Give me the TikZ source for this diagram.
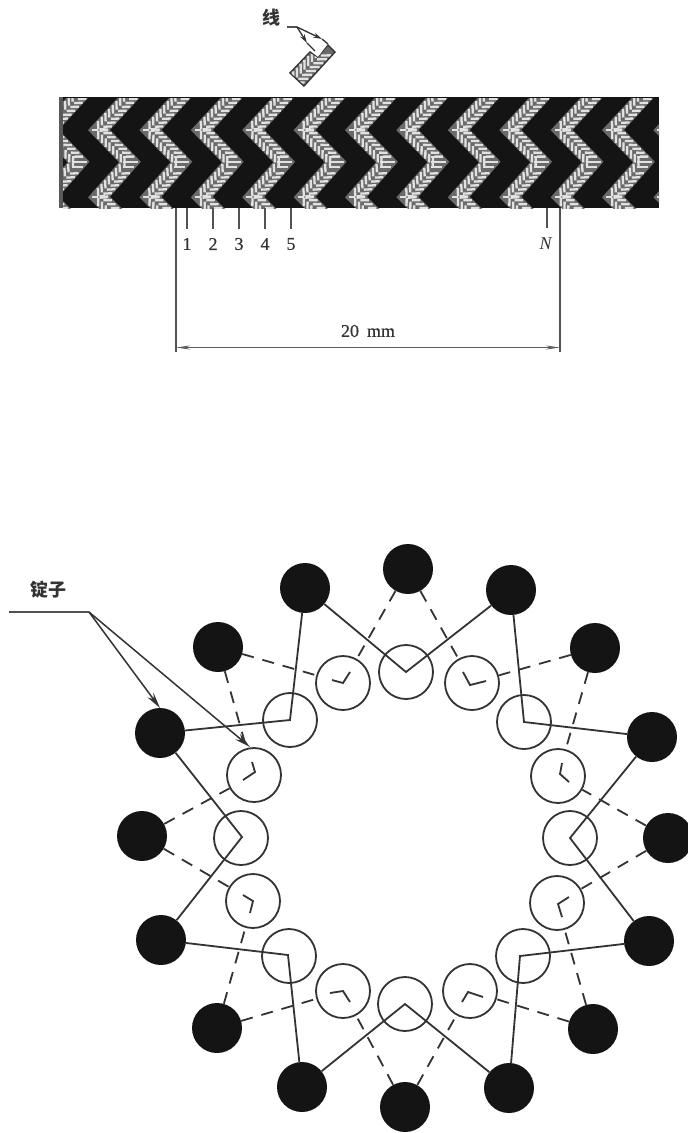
\documentclass[tikz,border=0pt]{standalone}
\usepackage{fontspec}
\setmainfont{Liberation Serif}
\newfontfamily\labfont[FakeBold=0.5]{Liberation Serif}
\newfontfamily\cjk{Noto Sans CJK SC}
\usetikzlibrary{arrows.meta}
\definecolor{ink}{HTML}{333333}
\definecolor{solidblack}{HTML}{141414}
\definecolor{yarn}{HTML}{E2E2E2}
\definecolor{yarnbase}{HTML}{6A6A6A}
\tikzset{
  x=1pt,y=-1pt,
  spindleblack/.style={circle,fill=solidblack,draw=none,minimum size=50pt,inner sep=0pt},
  spindleopen/.style={circle,draw=ink,line width=1.8pt,fill=none,minimum size=54pt,inner sep=0pt},
  solidlink/.style={draw=ink,line width=1.8pt},
  dashlink/.style={draw=ink,line width=1.8pt,dash pattern=on 12pt off 9pt},
  ticklink/.style={draw=ink,line width=1.8pt},
  thinline/.style={draw=ink!85!white,line width=1.7pt},
  pointer/.style={draw=ink,line width=1.5pt,-{Stealth[length=16pt,width=7.5pt]}},
  smallpointer/.style={draw=ink,line width=1.3pt,-{Stealth[length=9pt,width=5pt]}},
  lab/.style={inner sep=0pt,text=ink,font=\labfont\fontsize{18}{18}\selectfont},
  cjklab/.style={inner sep=0pt,text=ink,font=\cjk\bfseries\fontsize{18}{18}\selectfont},
  yarnstroke/.style={yarn,line width=2.3pt},
  yarnband/.style={yarnbase,line width=16pt,miter limit=10,line join=miter},
}
% one braided arm: start (#1,#2), page angle #3, last plait index #4, half width #5
\newcommand{\braidarm}[5]{%
  \begin{scope}[shift={(#1,#2)},rotate=#3]
    \foreach \pl in {0,...,#4}{
      \pgfmathsetmacro{\uu}{5.4*\pl}
      \pgfmathsetmacro{\vv}{\uu+#5-1}
      \draw[yarnstroke] (\uu,1)--(\vv,#5) (\uu,-1)--(\vv,-#5);
    }
  \end{scope}}
\newcommand{\braidstripe}[1]{%
  \pgfmathsetmacro{\Lx}{89+51.4*#1}%
  \pgfmathsetmacro{\Lp}{\Lx+10}\pgfmathsetmacro{\Lr}{\Lx+41}%
  \pgfmathsetmacro{\La}{\Lx+46}\pgfmathsetmacro{\Lb}{\Lx+30}%
  \pgfmathsetmacro{\Lt}{\Lx+3}\pgfmathsetmacro{\Lu}{\Lx+9}%
  \pgfmathsetmacro{\Lv}{\Lx+34}\pgfmathsetmacro{\Lw}{\Lx+49}\pgfmathsetmacro{\Lz}{\Lx+45}%
  \draw[yarnband] (\La,91)--(\Lp,130)--(\Lr,162)--(\Lp,197)--(\Lb,217);
  \braidarm{\Lp}{197}{48}{6}{7}%
  \braidarm{\Lp}{197}{-46}{4}{7}%
  \braidarm{\Lp}{130}{47}{8}{7}%
  \braidarm{\Lp}{130}{-46}{7}{7}%
  \draw[yarnstroke] (\Lt,130)--(\Lu,130) (\Lt,197)--(\Lu,197)
     (\Lv,157)--(\Lz,157) (\Lv,162)--(\Lw,162) (\Lv,167)--(\Lz,167);}
\begin{document}
\begin{tikzpicture}
\useasboundingbox (0,0) rectangle (688,1133);
\fill[white] (0,0) rectangle (688,1133);

% --- fabric band ---
\fill[solidblack] (59,97) rectangle (659,208);
\begin{scope}
  \clip (63,98) rectangle (659,208);
  \foreach \k in {-1,0,...,11}{\braidstripe{\k}}
\end{scope}
\fill[gray!70!black] (59,97) rectangle (63,208);

% --- small swatch ---
\fill[ink] (289,73)--(304,87)--(336,52)--(328,44)--(318,57)--(310,51)--cycle;
\begin{scope}
  \clip (291,73)--(304,85)--(334,52)--(328,46)--(318,58)--(310,53)--cycle;
  \fill[yarnbase] (291,73)--(304,85)--(334,52)--(328,46)--(318,58)--(310,53)--cycle;
  \braidarm{294}{82}{46}{7}{8}
\end{scope}

% --- thread label ---
\node[cjklab] (thread) at (271,18) {线};
\coordinate (t0) at (287,27);
\coordinate (t1) at (297,27);
\coordinate (t2) at (315,51);
\coordinate (t3) at (328,44);
\coordinate (t4) at (307,43);
\coordinate (t5) at (322,39);
\draw[thinline] (t0)--(t1);
\draw[smallpointer] (t1)--(t4);
\draw[draw=ink,line width=1.3pt] (t4)--(t2);
\draw[smallpointer] (t1)--(t5);
\draw[draw=ink,line width=1.3pt] (t5)--(t3);

% --- numbering ---
\foreach \n/\xx in {1/187,2/213,3/239,4/265,5/291}{
  \coordinate (ta\n) at (\xx,208);
  \coordinate (tb\n) at (\xx,229);
  \draw[thinline] (ta\n)--(tb\n);
  \node[lab] (n\n) at (\xx,244) {\n};
}
\coordinate (taN) at (547,208);
\coordinate (tbN) at (547,228);
\draw[thinline] (taN)--(tbN);
\node[inner sep=0pt,text=ink,font=\fontsize{18}{18}\selectfont] (nN) at (546,244) {\textit{N}};

% --- dimension ---
\coordinate (d1) at (176,208);
\coordinate (d2) at (176,352);
\coordinate (d3) at (560,208);
\coordinate (d4) at (560,352);
\coordinate (e1) at (176,347.5);
\coordinate (e2) at (560,347.5);
\draw[thinline] (d1)--(d2);
\draw[thinline] (d3)--(d4);
\draw[draw=ink!80!white,line width=1.3pt,{Stealth[length=14pt,width=4pt]}-{Stealth[length=14pt,width=4pt]}] (e1)--(e2);
\node[lab] (dim) at (368,331) {20\hspace{8pt}mm};

% --- black spindles ---
\foreach \nm/\xx/\yy in {a/408/569,b/511/590,c/595/648,d/652/737,e/668/838,f/649/941,g/593/1029,h/509/1088,i/405/1107,j/302/1087,k/217/1028,l/161/940,m/142/836,o/160/733,p/218/647,q/305/588}{
  \node[spindleblack] (B\nm) at (\xx,\yy) {};
}
% --- open spindles ---
\foreach \nm/\xx/\yy in {a/406/672,b/472/683,c/524/722,d/558/776,e/570/838,f/557/903,g/523/956,h/470/991,i/405/1004,j/343/991,k/289/956,l/253/901,m/241/838,o/254/775,p/290/720,q/343/683}{
  \node[spindleopen] (C\nm) at (\xx,\yy) {};
}
% --- solid yarn paths through large spindles ---
\foreach \ctr/\vx/\vy/\one/\two in {a/406/672/q/b,c/524/722/b/d,e/570/838/d/f,g/520/956/f/h,i/405/1004/h/j,k/288/955/j/l,m/242/837/l/o,p/290/720/o/q}{
  \coordinate (V\ctr) at (\vx,\vy);
  \draw[solidlink] (B\one)--(V\ctr)--(B\two);
}
% --- dashed yarn paths to small spindles ---
\foreach \ctr/\one/\two in {b/a/c,d/c/e,f/e/g,h/g/i,j/i/k,l/k/m,o/m/p,q/p/a}{
  \draw[dashlink] (B\one)--(C\ctr);
  \draw[dashlink] (B\two)--(C\ctr);
}
% --- small hooks inside small spindles ---
\foreach \nm/\ax/\ay/\vx/\vy/\bx/\by in {
  b/463/672/470/685/486/681,
  d/562/763/560/774/569/782,
  f/569/897/558/904/562/917,
  h/462/1002/468/992/483/997,
  j/330/993/343/991/350/1002,
  l/243/895/253/901/250/913,
  o/252/762/255/772/243/780,
  q/332/680/343/683/350/672}{
  \draw[ticklink] (\ax,\ay)--(\vx,\vy)--(\bx,\by);
}
% --- spindle label ---
\node[cjklab] (sp) at (48,590) {锭子};
\coordinate (s0) at (9,612);
\coordinate (s1) at (89,612);
\coordinate (s2) at (160,708);
\coordinate (s3) at (250,747);
\draw[thinline] (s0)--(s1);
\draw[pointer] (s1)--(s2);
\draw[pointer] (s1)--(s3);
\end{tikzpicture}
\end{document}
